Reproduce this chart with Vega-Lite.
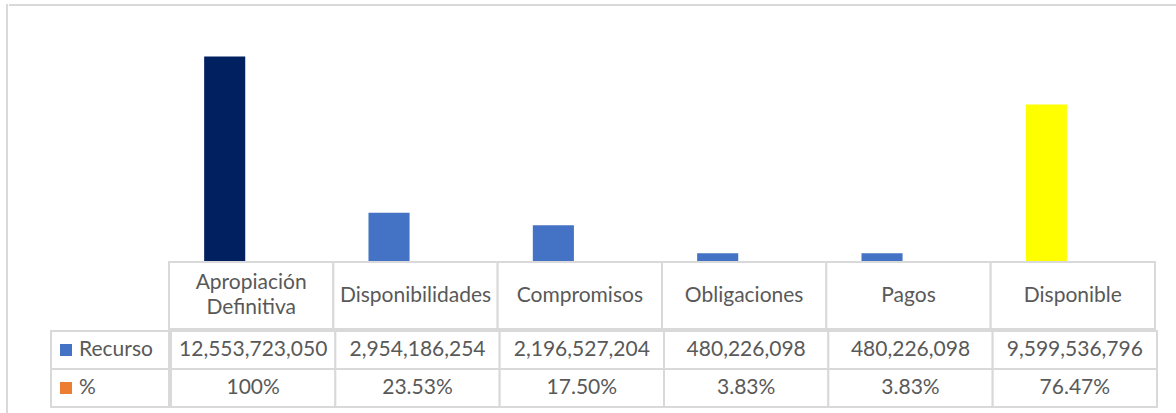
{
  "$schema": "https://vega.github.io/schema/vega-lite/v6.json",
  "padding": {"left": 6, "top": 4, "right": 0, "bottom": 0},
  "background": "white",
  "config": {"view": {"stroke": null}, "font": "Lato", "concat": {"spacing": 0}},
  "datasets": {
    "tabla": [
      {"cat": "Apropiación Definitiva", "serie": "Recurso", "valor": 12553723050, "texto": "12,553,723,050"},
      {"cat": "Disponibilidades", "serie": "Recurso", "valor": 2954186254, "texto": "2,954,186,254"},
      {"cat": "Compromisos", "serie": "Recurso", "valor": 2196527204, "texto": "2,196,527,204"},
      {"cat": "Obligaciones", "serie": "Recurso", "valor": 480226098, "texto": "480,226,098"},
      {"cat": "Pagos", "serie": "Recurso", "valor": 480226098, "texto": "480,226,098"},
      {"cat": "Disponible", "serie": "Recurso", "valor": 9599536796, "texto": "9,599,536,796"},
      {"cat": "Apropiación Definitiva", "serie": "%", "valor": 1, "texto": "100%"},
      {"cat": "Disponibilidades", "serie": "%", "valor": 0.2353, "texto": "23.53%"},
      {"cat": "Compromisos", "serie": "%", "valor": 0.175, "texto": "17.50%"},
      {"cat": "Obligaciones", "serie": "%", "valor": 0.0383, "texto": "3.83%"},
      {"cat": "Pagos", "serie": "%", "valor": 0.0383, "texto": "3.83%"},
      {"cat": "Disponible", "serie": "%", "valor": 0.7647, "texto": "76.47%"}
    ],
    "series": [{"serie": "Recurso"}, {"serie": "%"}]
  },
  "spacing": 0,
  "resolve": {"scale": {"color": "independent", "fill": "independent"}},
  "hconcat": [
    {"width": 0.01, "height": 409, "data": {"values": []}, "mark": "rect", "view": {"stroke": "#d9d9d9", "strokeWidth": 2}},
    {
      "spacing": 0,
      "vconcat": [
        {"width": 1170, "height": 0.01, "data": {"values": []}, "mark": "rect", "view": {"stroke": "#d9d9d9", "strokeWidth": 2}},
        {
          "spacing": 0,
          "hconcat": [
            {"width": 158, "height": 254, "data": {"values": []}, "mark": "rect"},
            {
              "width": 986,
              "height": 254,
              "data": {"name": "tabla"},
              "transform": [{"filter": "datum.serie === 'Recurso'"}],
              "mark": {"type": "bar"},
              "encoding": {
                "x": {"field": "cat", "type": "nominal", "scale": {"domain": ["Apropiación Definitiva", "Disponibilidades", "Compromisos", "Obligaciones", "Pagos", "Disponible"], "paddingInner": 0, "paddingOuter": 0}, "axis": null},
                "xOffset": {"field": "serie", "type": "nominal", "scale": {"domain": ["Recurso", "%"], "paddingInner": 0, "paddingOuter": 1.22, "align": 0.44}},
                "y": {"field": "valor", "type": "quantitative", "scale": {"domain": [0, 15590000000]}, "axis": null},
                "color": {"field": "cat", "type": "nominal", "scale": {"domain": ["Apropiación Definitiva", "Disponibilidades", "Compromisos", "Obligaciones", "Pagos", "Disponible"], "range": ["#002060", "#4472C4", "#4472C4", "#4472C4", "#4472C4", "#FFFF00"]}, "legend": null}
              }
            }
          ]
        },
        {
          "spacing": 0,
          "hconcat": [
            {"width": 158, "height": 67, "data": {"values": []}, "mark": "rect"},
            {
              "width": 986,
              "height": 67,
              "data": {"name": "tabla"},
              "transform": [{"filter": "datum.serie === 'Recurso'"}],
              "encoding": {
                "x": {"field": "cat", "type": "nominal", "scale": {"domain": ["Apropiación Definitiva", "Disponibilidades", "Compromisos", "Obligaciones", "Pagos", "Disponible"], "paddingInner": 0, "paddingOuter": 0}, "axis": null}
              },
              "layer": [
                {"mark": {"type": "rect", "fill": "white", "stroke": "#d9d9d9", "strokeWidth": 2}},
                {"transform": [{"filter": "indexof(datum.cat, ' ') < 0"}], "mark": {"type": "text", "fontSize": 21, "color": "#595959", "baseline": "middle"}, "encoding": {"text": {"field": "cat"}}},
                {"transform": [{"filter": "indexof(datum.cat, ' ') >= 0"}], "mark": {"type": "text", "fontSize": 21, "color": "#595959", "lineBreak": " ", "lineHeight": 25, "baseline": "middle", "dy": -12.5}, "encoding": {"text": {"field": "cat"}}}
              ]
            }
          ]
        },
        {
          "spacing": 0,
          "hconcat": [
            {"width": 40, "height": 76, "data": {"values": []}, "mark": "rect"},
            {
              "width": 118,
              "height": 76,
              "data": {"name": "series"},
              "encoding": {
                "y": {"field": "serie", "type": "nominal", "scale": {"domain": ["Recurso", "%"], "paddingInner": 0, "paddingOuter": 0}, "axis": null}
              },
              "layer": [
                {"mark": {"type": "rect", "fill": "white", "stroke": "#d9d9d9", "strokeWidth": 2}},
                {"mark": {"type": "point", "shape": "square", "filled": true, "size": 144, "opacity": 1, "xOffset": -44}, "encoding": {"fill": {"field": "serie", "type": "nominal", "scale": {"domain": ["Recurso", "%"], "range": ["#4472C4", "#ED7D31"]}, "legend": null}}},
                {"mark": {"type": "text", "fontSize": 21, "color": "#595959", "align": "left", "baseline": "middle", "dx": -31}, "encoding": {"text": {"field": "serie"}}}
              ]
            },
            {
              "width": 986,
              "height": 76,
              "data": {"name": "tabla"},
              "encoding": {
                "x": {"field": "cat", "type": "nominal", "scale": {"domain": ["Apropiación Definitiva", "Disponibilidades", "Compromisos", "Obligaciones", "Pagos", "Disponible"], "paddingInner": 0, "paddingOuter": 0}, "axis": null},
                "y": {"field": "serie", "type": "nominal", "scale": {"domain": ["Recurso", "%"], "paddingInner": 0, "paddingOuter": 0}, "axis": null}
              },
              "layer": [
                {"mark": {"type": "rect", "fill": "white", "stroke": "#d9d9d9", "strokeWidth": 2}},
                {"mark": {"type": "text", "fontSize": 21, "color": "#595959", "baseline": "middle"}, "encoding": {"text": {"field": "texto"}}}
              ]
            }
          ]
        }
      ]
    }
  ]
}
